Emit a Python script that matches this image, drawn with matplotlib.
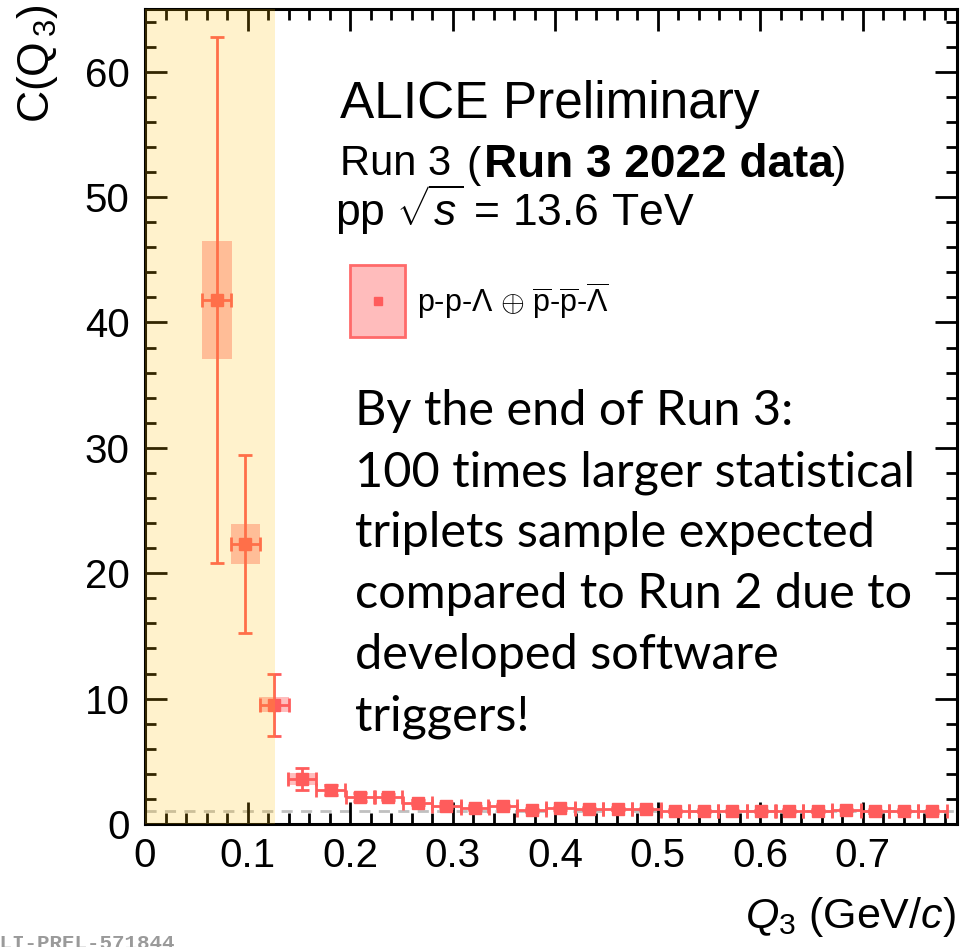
import numpy as np
import matplotlib.pyplot as plt
from matplotlib.patches import Rectangle

plt.rcParams['font.family'] = ['Liberation Sans', 'DejaVu Sans']
plt.rcParams['mathtext.fontset'] = 'custom'
plt.rcParams['mathtext.rm'] = 'Liberation Sans'
plt.rcParams['mathtext.it'] = 'Liberation Sans:italic'
plt.rcParams['mathtext.bf'] = 'Liberation Sans:bold'

# p-p-Lambda (+ antiparticles) three-body correlation, Run 3 2022
q3 = [0.070, 0.098, 0.126, 0.153, 0.181, 0.210, 0.237, 0.266, 0.294, 0.322,
      0.349, 0.377, 0.405, 0.433, 0.461, 0.489, 0.517, 0.545, 0.573, 0.601,
      0.628, 0.656, 0.684, 0.712, 0.740, 0.768]
c_q3 = [41.8, 22.3, 9.5, 3.6, 2.7, 2.15, 2.15, 1.7, 1.45, 1.3,
        1.4, 1.1, 1.25, 1.2, 1.2, 1.2, 1.05, 1.05, 1.05, 1.05,
        1.05, 1.05, 1.1, 1.0, 1.05, 1.0]
stat_err = [21.0, 7.1, 2.5, 0.9, 0.4, 0.3, 0.25, 0.2, 0.2, 0.15,
            0.15, 0.12, 0.12, 0.1, 0.1, 0.1, 0.1, 0.1, 0.1, 0.1,
            0.1, 0.1, 0.1, 0.1, 0.1, 0.1]
sys_err = [4.7, 1.6, 0.6, 0.5, 0.5, 0.35, 0.35, 0.3, 0.3, 0.3,
           0.3, 0.25, 0.25, 0.25, 0.25, 0.25, 0.25, 0.25, 0.25, 0.25,
           0.25, 0.25, 0.25, 0.25, 0.25, 0.25]
bin_half = 0.014

x_ticks = [0, 0.1, 0.2, 0.3, 0.4, 0.5, 0.6, 0.7]
x_labels = ['0', '0.1', '0.2', '0.3', '0.4', '0.5', '0.6', '0.7']
y_ticks = [0, 10, 20, 30, 40, 50, 60]

W, H = 962, 947
red = '#ff5c5c'


def fx(px):
    return px / W


def fy(py):
    return 1 - py / H


fig = plt.figure(figsize=(W / 100, H / 100), dpi=100)
ax = fig.add_axes([fx(145), fy(824), fx(957) - fx(145), fy(9) - fy(824)])

q = np.array(q3)
c = np.array(c_q3)
sy = np.array(sys_err)
box_hw = np.where(q < 0.16, 0.0145, 0.0065)

# systematic boxes
for xi, yi, si, hw in zip(q, c, sy, box_hw):
    ax.add_patch(Rectangle((xi - hw, yi - si), 2 * hw, 2 * si,
                           facecolor=red, alpha=0.4, lw=0, zorder=2))

ax.axhline(1, color='#c0c0c0', lw=2, ls=(0, (4, 3)), zorder=1)

ax.errorbar(q, c, yerr=stat_err, xerr=bin_half, fmt='s', color=red,
            ms=8, elinewidth=2, capsize=5, capthick=2, zorder=3)

# highlighted low-Q3 region
ax.axvspan(0, 0.127, color='#ffc000', alpha=0.2, lw=0, zorder=10)

ax.set_xlim(0, 0.792)
ax.set_ylim(0, 65)
ax.set_xticks(x_ticks)
ax.set_xticklabels(x_labels)
ax.set_xticks(np.arange(0, 0.79, 0.02), minor=True)
ax.set_yticks(y_ticks)
ax.set_yticks(np.arange(0, 65, 2), minor=True)
ax.tick_params(which='both', direction='in', top=True, right=True,
               width=2, labelsize=29, colors='black')
ax.tick_params(which='major', length=16)
ax.tick_params(which='minor', length=8)
ax.tick_params(axis='x', pad=9)
ax.tick_params(axis='y', pad=11)
for s in ax.spines.values():
    s.set_linewidth(2.2)

fig.text(fx(38), fy(4), r'C(Q$_{\,3}$)', rotation=90, ha='center', va='top',
         fontsize=32)
fig.text(fx(956), fy(928), r'$Q_{3}$ (GeV/$c$)', ha='right', va='baseline',
         fontsize=31)

fig.text(fx(340), fy(118), 'ALICE Preliminary', fontsize=37, va='baseline')
fig.text(fx(340), fy(175), 'Run 3', fontsize=30, va='baseline')
fig.text(fx(466), fy(177), '(', fontsize=31, va='baseline')
fig.text(fx(484), fy(177), 'Run 3 2022 data', fontsize=33, va='baseline',
         fontweight='bold')
fig.text(fx(832), fy(177), ')', fontsize=31, va='baseline')
fig.text(fx(335), fy(226), r'pp $\sqrt{s}$ = 13.6 TeV', fontsize=32,
         va='baseline')

# legend entry
ax.add_patch(Rectangle((0.2525, 0.5975), 0.0677, 0.0885, transform=ax.transAxes,
                       facecolor='#ffbcbc', edgecolor='#ff6a6a', lw=2,
                       zorder=4))
ax.plot([0.2864], [0.6418], 's', color=red, ms=6, transform=ax.transAxes,
        zorder=5)
fig.text(fx(417), fy(313),
         r'p-p-$\Lambda$ $\oplus$ $\overline{\rm p}$-$\overline{\rm p}$-$\overline{\Lambda}$',
         fontsize=22, va='baseline')

lines = ['By the end of Run 3:',
         '100 times larger statistical',
         'triplets sample expected',
         'compared to Run 2 due to',
         'developed software',
         'triggers!']
for i, line in enumerate(lines):
    fig.text(fx(355), fy(425 + 61 * i), line, fontsize=35, va='baseline',
             family=['Lato', 'DejaVu Sans'])

fig.text(fx(-13), fy(934), 'ALI-PREL-571844', fontsize=15, va='top',
         family=['Liberation Mono'], fontweight='bold', color='#9a9a9a')

fig.savefig('out.png', dpi=100)
